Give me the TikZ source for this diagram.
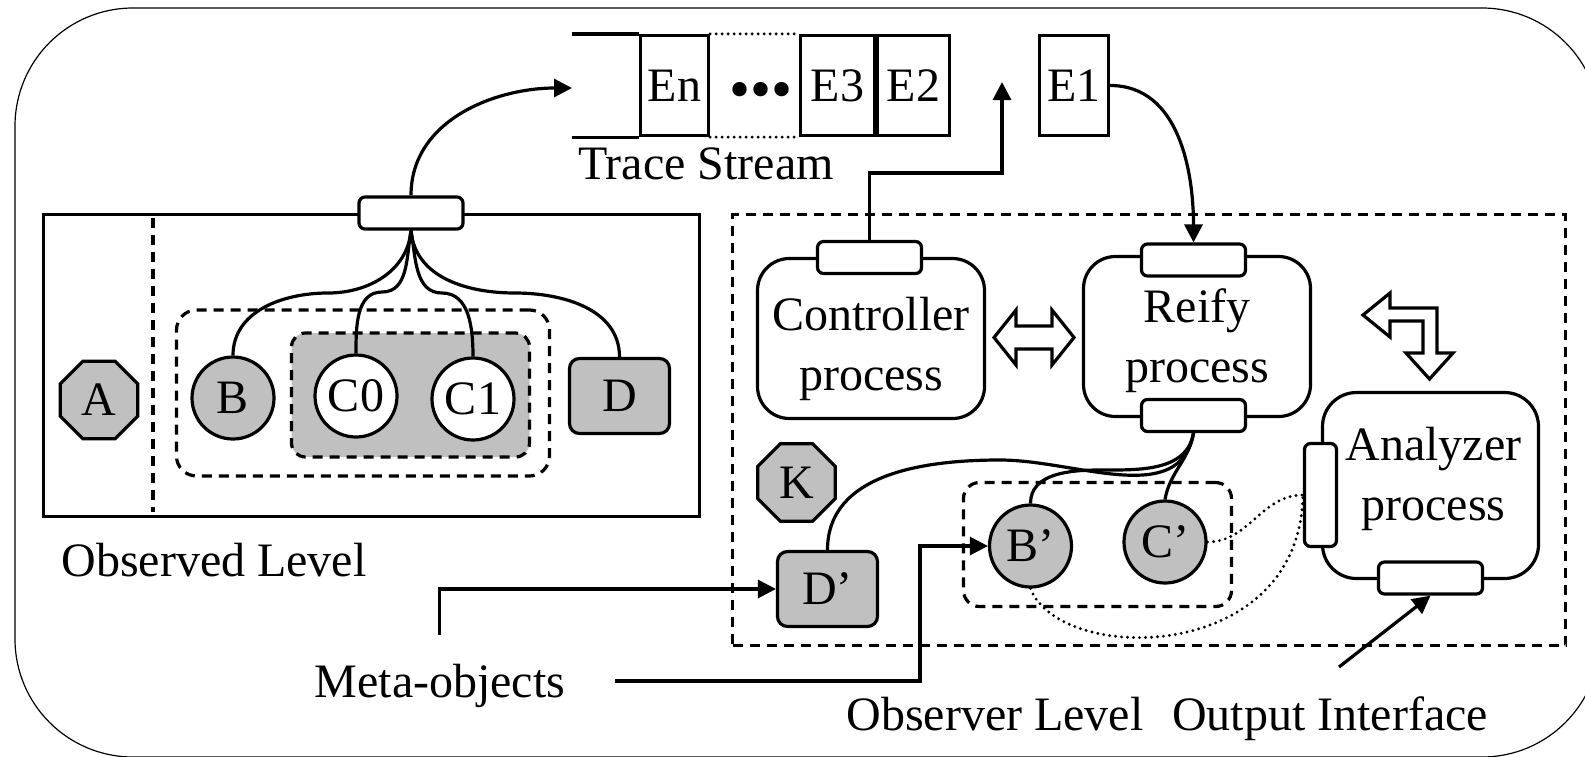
\documentclass[tikz,border=0pt]{standalone}
\usepackage{fontspec}
\setmainfont{Liberation Serif}
\usepackage{tikz}
\usetikzlibrary{arrows.meta}
\usetikzlibrary{shapes.geometric}
\definecolor{shade}{RGB}{192,192,192}

\begin{document}
\begin{tikzpicture}[x=0.5pt, y=-0.5pt, line width=1.6pt, >={Triangle[length=9pt, width=9pt]},
    every node/.style={font=\fontsize{24}{30}\selectfont, inner sep=0pt},
    port/.style={draw, fill=white, rounded corners=3pt, minimum width=52pt, minimum height=16pt},
    vport/.style={draw, fill=white, rounded corners=3pt, minimum width=16pt, minimum height=51.5pt},
    proc/.style={draw, rounded corners=16pt, minimum width=113.5pt, minimum height=80pt},
    obj/.style={circle, draw, fill=shade, minimum size=41pt},
    octa/.style={regular polygon, regular polygon sides=8, draw, fill=shade, minimum size=42pt},
    sq/.style={draw, fill=shade, rounded corners=5pt, minimum width=50pt, minimum height=37.5pt},
    cell/.style={draw, minimum height=50pt},
    dsh/.style={dash pattern=on 5pt off 3.5pt},
    dots/.style={line cap=round, dash pattern=on 0pt off 3pt}]
          \useasboundingbox (0,0) rectangle (1585,756);
          \draw[line width=0.6pt, rounded corners=59pt] (15,8) rectangle (1600,757);

          \node[cell, minimum width=34pt] (En) at (674.5,85.5) {En};
          \node[cell, minimum width=37pt] (E3) at (837.5,85.5) {E3};
          \node[cell, minimum width=36pt] (E2) at (913.5,85.5) {E2};
          \node[cell, minimum width=34.5pt] (E1) at (1074,85.5) {E1};
          \node[font=\fontsize{30}{30}\selectfont] (gap) at (761,96) {\textbullet\textbullet\textbullet};
          \coordinate (qin) at (572,88);
          \draw (qin |- En.north) -- (En.north west);
          \draw (qin |- En.south) -- (En.south west);
          \draw[dots] (En.north east) -- (E3.north west);
          \draw[dots] (En.south east) -- (E3.south west);
          \node[anchor=base] (tracelbl) at (706,179) {Trace Stream};

          \node[draw, minimum width=328pt, minimum height=151pt] (obsbox) at (371.5,365.5) {};
          \draw[dsh] (153,218) -- (153,512);
          \node[draw, dsh, rounded corners=10pt, minimum width=186.5pt, minimum height=83pt] (grpB) at (363,393) {};
          \node[draw, dsh, fill=shade, rounded corners=7pt, minimum width=119pt, minimum height=62pt] (grpC) at (410.5,395) {};
          \node[port] (oport) at (411,213) {};
          \node[anchor=base] (obslbl) at (214,576) {Observed Level};

          \node[octa] (A) at (99,400) {A};
          \node[obj] (B) at (233,398) {B};
          \node[obj, fill=white] (C0) at (356,396) {C0};
          \node[obj, fill=white] (C1) at (473,399) {C1};
          \node[sq] (D) at (619.5,396) {D};

          \draw[->] (oport.north) to[out=90, in=180] (qin);
          \draw (oport.south) to[out=-95, in=0] (328,293) to[out=180, in=90] (B.north);
          \draw (oport.south) to[out=-100, in=0] (382,292) to[out=180, in=90] (C0.north);
          \draw (oport.south) to[out=-80, in=180] (442,293) to[out=0, in=90] (C1.north);
          \draw (oport.south) to[out=-85, in=180] (515,293) to[out=0, in=90] (D.north);

          \node[draw, dsh, minimum width=416.5pt, minimum height=215.5pt] (obsvbox) at (1149,430) {};
          \node[proc, label={[align=center, yshift=-5pt]center:{Controller\\process}}] (ctrl) at (871,338.5) {};
          \node[proc, label={[align=center, yshift=-2pt]center:{Reify\\process}}] (reify) at (1197,336.5) {};
          \node[proc, minimum width=108pt, minimum height=93pt, rounded corners=17pt,
            label={[align=center, xshift=1.5pt, yshift=3.5pt]center:{Analyzer\\process}}] (anlz) at (1430.5,485.5) {};
          \node[port] (cport) at (869.5,257.5) {};
          \node[port] (rtop) at (1193.5,260) {};
          \node[port] (rbot) at (1193.5,415.5) {};
          \node[vport] (aport) at (1320.5,495) {};
          \node[port] (abot) at (1430.5,578) {};

          \draw[fill=white] (994,337.5) -- (1016,310) -- (1016,326) -- (1052,326) -- (1052,310) -- (1074,337.5)
            -- (1052,365) -- (1052,349) -- (1016,349) -- (1016,365) -- cycle;
          \draw[fill=white] (1363,315) -- (1390,293) -- (1390,308) -- (1437,308) -- (1437,353) -- (1453,353)
            -- (1429.5,379) -- (1406,353) -- (1423,353) -- (1423,321) -- (1390,321) -- (1390,337) -- cycle;

          \node[octa] (K) at (796.5,482.5) {K};
          \node[draw, dsh, rounded corners=8pt, minimum width=134pt, minimum height=62pt] (grpO) at (1097.5,544.5) {};
          \node[sq] (Dp) at (827.5,589) {D'};
          \node[obj] (Bp) at (1030.5,546) {B'};
          \node[obj] (Cp) at (1165,542) {C'};

          \coordinate (upend) at (1002,82);
          \coordinate (upturn) at (1002,173);
          \draw[->] (cport.north) |- (upturn) -- (upend);
          \draw[->] (E1.east) to[out=0, in=90] (rtop.north);

          \draw (rbot.south) to[out=-100, in=0] (1000,460) to[out=180, in=90] (Dp.north);
          \draw (rbot.south) to[out=-100, in=0] (1100,470) to[out=180, in=90] (Bp.north);
          \draw (rbot.south) to[out=-100, in=80] (Cp.north);
          \draw[dots] (Cp.east) to[out=0, in=180] (aport.west);
          \draw[dots] (Bp.south) .. controls (1060,665) and (1300,665) .. (aport.west);

          \node[anchor=base] (meta) at (440,697) {Meta-objects};
          \node[anchor=base] (obsvlbl) at (995,730) {Observer Level};
          \node[anchor=base] (outlbl) at (1330,730) {Output Interface};
          \coordinate (m1) at (439.5,635);
          \coordinate (m2) at (615,681);
          \coordinate (mturn) at (920,0);
          \coordinate (oi) at (1339,667);
          \draw[->] (m1) |- (Dp.west);
          \draw[->] (m2) -| (mturn |- Bp.west) -- (Bp.west);
          \draw[->] (oi) -- (abot.south);
        \end{tikzpicture}
\end{document}
